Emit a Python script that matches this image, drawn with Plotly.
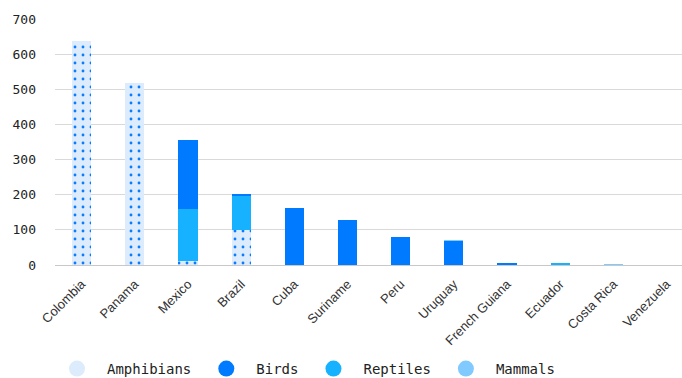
import plotly.graph_objects as go

countries = ["Colombia", "Panama", "Mexico", "Brazil", "Cuba", "Suriname", "Peru",
             "Uruguay", "French Guiana", "Ecuador", "Costa Rica", "Venezuela"]
amphibians = [637, 519, 12, 100, 0, 0, 0, 0, 0, 0, 0, 0]
reptiles = [0, 0, 147, 96, 0, 0, 0, 0, 0, 4, 0, 0]
birds = [0, 0, 197, 6, 162, 128, 80, 70, 4, 0, 0, 0]
mammals = [0, 0, 0, 0, 0, 0, 0, 1, 0, 0, 2, 0]

C_AMPH_BG = "#dcecfc"
C_AMPH_DOT = "#0a7cff"
C_BIRDS = "#007aff"
C_REPT = "#16b2ff"
C_MAMM = "#80caff"

MONO = "DejaVu Sans Mono"

fig = go.Figure()

# stacked bars (bottom to top)
fig.add_trace(go.Bar(
    x=countries, y=amphibians, name="Amphibians", showlegend=False,
    marker=dict(color=C_AMPH_BG, line=dict(width=0),
                pattern=dict(shape=".", fgcolor=C_AMPH_DOT, bgcolor=C_AMPH_BG,
                             size=8, solidity=0.1, fillmode="replace")),
))
fig.add_trace(go.Bar(x=countries, y=reptiles, name="Reptiles", showlegend=False,
                     marker=dict(color=C_REPT, line=dict(width=0))))
fig.add_trace(go.Bar(x=countries, y=birds, name="Birds", showlegend=False,
                     marker=dict(color=C_BIRDS, line=dict(width=0))))
fig.add_trace(go.Bar(x=countries, y=mammals, name="Mammals", showlegend=False,
                     marker=dict(color=C_MAMM, line=dict(width=0))))

# round legend markers
legend_items = [("Amphibians", C_AMPH_BG), ("Birds", C_BIRDS),
                ("Reptiles", C_REPT), ("Mammals", C_MAMM)]
for name, col in legend_items:
    fig.add_trace(go.Scatter(
        x=[None], y=[None], mode="markers", name=name,
        marker=dict(symbol="circle", size=16, color=col, line=dict(width=0)),
    ))

fig.update_layout(
    width=682, height=378,
    margin=dict(l=55, r=0, t=19, b=113),
    plot_bgcolor="white", paper_bgcolor="white",
    barmode="stack", bargap=0.64,
    showlegend=True,
    legend=dict(orientation="h", xref="container", x=47 / 682, xanchor="left",
                yref="container", y=9 / 378, yanchor="middle",
                font=dict(family=MONO, size=14, color="#222"),
                itemwidth=50, traceorder="normal"),
    xaxis=dict(range=[-0.5, 11.29], tickangle=-45, showgrid=False, showline=False,
               ticks="", automargin=False, ticklabelstandoff=8,
               tickfont=dict(family="Liberation Sans", size=13, color="#333")),
    yaxis=dict(range=[0, 700], dtick=100, showgrid=True, gridcolor="#d9d9d9",
               gridwidth=1, zeroline=True, zerolinecolor="#c8c8c8", zerolinewidth=1,
               ticks="", ticklabelstandoff=18, automargin=False,
               tickfont=dict(family=MONO, size=13, color="#222")),
)

fig.write_html("out.html")
